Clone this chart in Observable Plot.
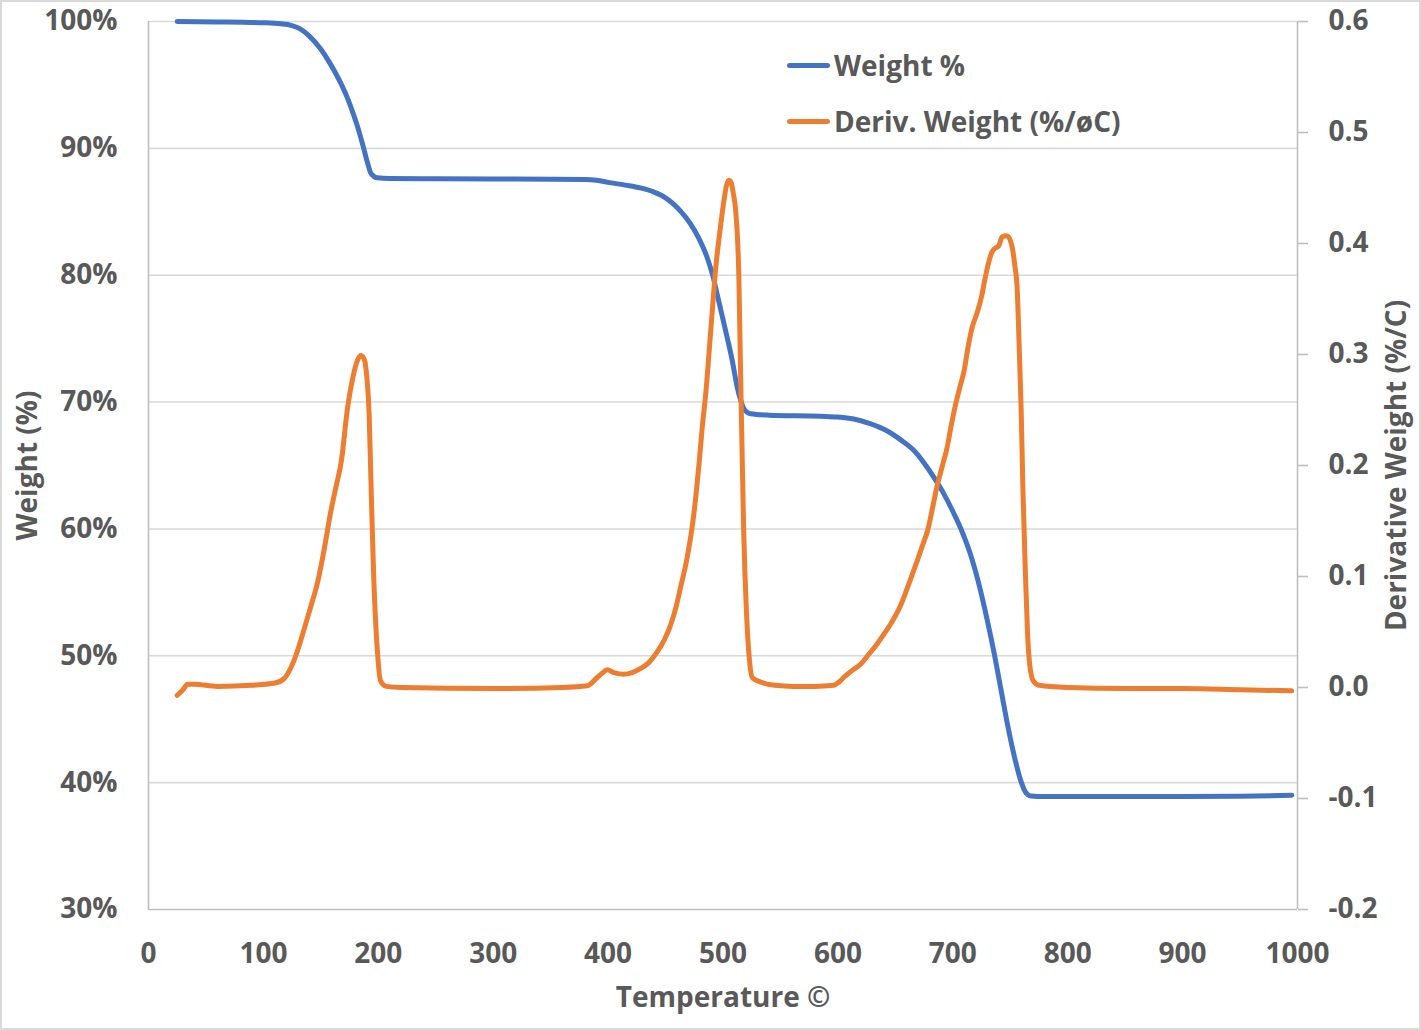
<!DOCTYPE html>
<html>
<head>
<meta charset="utf-8">
<script src="https://cdn.jsdelivr.net/npm/d3@7"></script>
<script src="https://cdn.jsdelivr.net/npm/@observablehq/plot@0.6"></script>
<style>
  html, body { margin: 0; padding: 0; background: #fff; }
  #wrap { position: relative; width: 1421px; height: 1030px; overflow: hidden; }
  #wrap::after { content: ""; position: absolute; inset: 0; border: 2px solid #d9d9d9; pointer-events: none; }
  .leg { position: absolute; display: flex; align-items: center; height: 30px;
         font-family: "Open Sans", sans-serif; font-weight: 700; font-size: 28px; color: #595959; line-height: 30px; white-space: nowrap; }
  .sw { width: 43px; height: 5px; border-radius: 3px; margin-right: 4px; }
</style>
</head>
<body>
<div id="wrap">
  <div id="chart"></div>
  <div class="leg" style="left:787px; top:50px;"><span class="sw" style="background:#4472C4"></span><span id="l1"></span></div>
  <div class="leg" style="left:787px; top:106px;"><span class="sw" style="background:#ED7D31"></span><span id="l2"></span></div>
</div>
<script>
// ---- data ----
const seriesNames = ["Weight %", "Deriv. Weight (%/øC)"];
const xTitle = "Temperature ©";
const yLeftTitle = "Weight (%)";
const yRightTitle = "Derivative Weight (%/C)";

const xTicks = [0, 100, 200, 300, 400, 500, 600, 700, 800, 900, 1000];
const leftTicks = [30, 40, 50, 60, 70, 80, 90, 100];
const leftTickLabels = ["30%", "40%", "50%", "60%", "70%", "80%", "90%", "100%"];
const rightTicks = [-0.2, -0.1, 0, 0.1, 0.2, 0.3, 0.4, 0.5, 0.6];
const rightTickLabels = ["-0.2", "-0.1", "0.0", "0.1", "0.2", "0.3", "0.4", "0.5", "0.6"];

const weightTemp = [25, 60, 100, 115, 124, 132, 140, 149.7, 158, 167, 173, 178.7, 183, 187.4, 190.5, 193.2, 196, 199, 210, 250, 300, 350, 380, 390, 400, 415, 428, 440, 450, 457, 464, 471.7, 479, 486.2, 491, 494.9, 499, 503.6, 508, 512.3, 515.5, 518, 521, 524, 540, 585, 600, 613.8, 628, 643, 655, 666, 675, 684, 692, 701, 708, 715, 722, 730, 736, 742, 748, 754, 759, 763, 768, 780, 850, 900, 950, 995];
const weightPct  = [100.0, 99.97, 99.9, 99.82, 99.7, 99.42, 98.85, 97.85, 96.7, 95.2, 94.0, 92.6, 91.4, 89.96, 88.9, 88.1, 87.8, 87.68, 87.62, 87.6, 87.58, 87.57, 87.55, 87.48, 87.32, 87.1, 86.88, 86.55, 86.1, 85.6, 84.95, 84.05, 82.9, 81.4, 80.0, 78.5, 76.9, 75.1, 73.3, 71.2, 70.1, 69.5, 69.2, 69.08, 68.97, 68.88, 68.82, 68.66, 68.3, 67.72, 67.0, 66.2, 65.2, 64.0, 62.8, 61.2, 59.8, 58.1, 55.9, 52.8, 50.2, 47.3, 44.4, 41.9, 40.2, 39.3, 38.95, 38.9, 38.9, 38.9, 38.93, 39.0];

const derivTemp = [25, 30, 34, 40, 60, 90, 110, 118, 124, 130, 135, 141, 147, 153, 158, 163, 168, 173, 178, 182, 185, 188, 190, 192, 194, 196, 199, 202, 207, 220, 300, 360, 381.8, 390.5, 395, 399.2, 405, 413.7, 421, 428, 435, 442.7, 449, 454.3, 459, 463, 468.8, 474.6, 479, 482, 485, 489.6, 493.5, 497.8, 501, 503, 505, 507, 509, 511, 513.8, 515, 516.3, 518, 520.5, 523, 525.4, 532.6, 545, 561.6, 580, 596.4, 601, 605, 612, 619.7, 627, 634, 640, 645.8, 655, 662, 669, 675, 678, 682, 686, 691, 695, 699, 702, 706, 710, 713, 717, 721, 725, 728, 731, 734, 736, 740, 743, 747, 750, 752, 754, 756, 758, 759.5, 761, 763, 765, 767, 770, 775, 800, 850, 900, 950, 995];
const derivVal  = [-0.007, -0.002, 0.003, 0.003, 0.001, 0.002, 0.004, 0.008, 0.018, 0.034, 0.051, 0.072, 0.094, 0.125, 0.155, 0.18, 0.205, 0.25, 0.28, 0.295, 0.299, 0.295, 0.28, 0.247, 0.17, 0.1, 0.036, 0.006, 0.001, 0.0, -0.001, 0.0, 0.0015, 0.009, 0.013, 0.016, 0.0135, 0.012, 0.0135, 0.017, 0.022, 0.032, 0.043, 0.056, 0.072, 0.09, 0.117, 0.156, 0.2, 0.235, 0.265, 0.325, 0.376, 0.415, 0.44, 0.452, 0.457, 0.455, 0.445, 0.43, 0.37, 0.30, 0.23, 0.141, 0.066, 0.025, 0.009, 0.005, 0.002, 0.001, 0.001, 0.002, 0.005, 0.009, 0.015, 0.021, 0.03, 0.039, 0.048, 0.057, 0.075, 0.094, 0.114, 0.132, 0.141, 0.16, 0.18, 0.2, 0.216, 0.238, 0.253, 0.27, 0.286, 0.305, 0.325, 0.337, 0.352, 0.368, 0.382, 0.392, 0.395, 0.398, 0.406, 0.407, 0.403, 0.395, 0.38, 0.36, 0.3, 0.25, 0.18, 0.11, 0.05, 0.02, 0.006, 0.002, 0.0, -0.001, -0.001, -0.002, -0.003];

// ---- build ----
const dMin = -0.2, dMax = 0.6, wMin = 30, wMax = 100;
const toLeft = d => wMin + (d - dMin) / (dMax - dMin) * (wMax - wMin);
const rightTicksMapped = rightTicks.map(toLeft);

const weightData = weightTemp.map((t, i) => ({t, v: weightPct[i]}));
const derivData = derivTemp.map((t, i) => ({t, v: toLeft(derivVal[i])}));

const FONT = "'Open Sans', sans-serif";
const TXT = "#595959";

const chart = Plot.plot({
  width: 1421,
  height: 1030,
  marginLeft: 148,
  marginRight: 124,
  marginTop: 21,
  marginBottom: 121,
  x: {domain: [0, 1000]},
  y: {domain: [wMin, wMax]},
  style: {fontFamily: FONT, fontSize: "28px", fontWeight: 700, color: TXT, background: "#fff", overflow: "visible"},
  marks: [
    Plot.ruleY(leftTicks.slice(1), {stroke: "#d9d9d9", strokeWidth: 1.6}),
    Plot.ruleX([0, 1000], {stroke: "#bfbfbf", strokeWidth: 1.6}),
    Plot.ruleY([wMin], {stroke: "#bfbfbf", strokeWidth: 1.6}),
    Plot.axisX({ticks: xTicks, tickSize: 0, tickPadding: 34, tickFormat: d => String(d), label: null, fill: TXT}),
    Plot.axisY({anchor: "left", ticks: leftTicks, tickSize: 0, tickPadding: 31,
      tickFormat: d => leftTickLabels[leftTicks.indexOf(d)], label: null, fill: TXT}),
    Plot.axisY({anchor: "right", ticks: rightTicksMapped, tickSize: 10, tickPadding: 21, stroke: "#bfbfbf", strokeWidth: 1.6,
      tickFormat: d => rightTickLabels[rightTicksMapped.indexOf(d)], label: null, fill: TXT}),
    Plot.line(weightData, {x: "t", y: "v", stroke: "#4472C4", strokeWidth: 5, curve: "monotone-x"}),
    Plot.line(derivData, {x: "t", y: "v", stroke: "#ED7D31", strokeWidth: 5, curve: "monotone-x"}),
    Plot.text([yLeftTitle], {frameAnchor: "left", dx: -120, rotate: -90, textAnchor: "middle", lineAnchor: "middle", fill: TXT, fontSize: 28, fontWeight: 700}),
    Plot.text([yRightTitle], {frameAnchor: "right", dx: 100, rotate: -90, textAnchor: "middle", lineAnchor: "middle", fill: TXT, fontSize: 28, fontWeight: 700}),
    Plot.text([xTitle], {frameAnchor: "bottom", dy: 89, textAnchor: "middle", lineAnchor: "middle", fill: TXT, fontSize: 28, fontWeight: 700})
  ]
});
document.getElementById("chart").appendChild(chart);
document.getElementById("l1").textContent = seriesNames[0];
document.getElementById("l2").textContent = seriesNames[1];
</script>
</body>
</html>
